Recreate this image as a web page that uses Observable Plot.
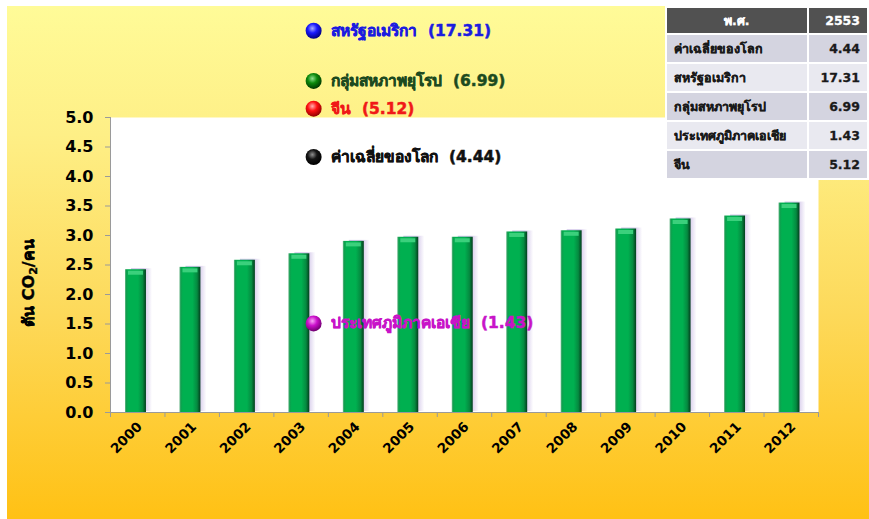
<!DOCTYPE html>
<html><head><meta charset="utf-8">
<script src="https://cdn.jsdelivr.net/npm/d3@7"></script>
<script src="https://cdn.jsdelivr.net/npm/@observablehq/plot@0.6"></script>
<style>
body{margin:0;background:#fff;}
#wrap{position:relative;width:869px;height:519px;overflow:hidden;font-family:"DejaVu Sans","Noto Sans",sans-serif;}
#bg{position:absolute;left:7px;top:6px;right:0;bottom:0;background:linear-gradient(#fffb98 0%,#feef86 25%,#fdd95a 60%,#ffc114 100%);}
#chart{position:absolute;left:0;top:0;}
#ytitle{position:absolute;left:28px;top:283px;transform:translate(-50%,-50%) rotate(-90deg);font-weight:bold;font-size:16px;white-space:nowrap;color:#000;-webkit-text-stroke:0.4px #000;}
#ytitle sub{font-size:11px;vertical-align:-3px;}
#tbl{position:absolute;left:665px;top:6px;border-collapse:separate;border-spacing:2px;background:#fff;font-weight:bold;font-size:12.5px;color:#1a1a1a;-webkit-text-stroke:0.3px #1a1a1a;}
#tbl th{background:#515151;color:#fff;height:25px;padding:0;-webkit-text-stroke:0.3px #fff;}
#tbl td{height:27px;padding:0 7px;}
#tbl td:first-child{width:134px;}
#tbl td:last-child{width:38px;text-align:right;}
#tbl th:first-child{width:148px;text-align:center;}
#tbl th:last-child{width:52px;text-align:right;padding-right:7px;}
#tbl tr.odd td{background:#d4d4e0;}
#tbl tr.even td{background:#e9e9f0;}
</style>
</head><body>
<svg width="0" height="0" style="position:absolute">
<defs>
<linearGradient id="barGrad" x1="0" x2="1" y1="0" y2="0">
 <stop offset="0" stop-color="#6bb88a"/>
 <stop offset="0.07" stop-color="#0f9f4e"/>
 <stop offset="0.16" stop-color="#00b050"/>
 <stop offset="0.62" stop-color="#00b050"/>
 <stop offset="0.84" stop-color="#058a40"/>
 <stop offset="1" stop-color="#033d1d"/>
</linearGradient>
<linearGradient id="shadowGrad" x1="0" x2="1" y1="0" y2="0">
 <stop offset="0.6" stop-color="#a890d4" stop-opacity="0.55"/>
 <stop offset="1" stop-color="#a890d4" stop-opacity="0"/>
</linearGradient>
<radialGradient id="ballBlue" cx="0.42" cy="0.35" r="0.65">
 <stop offset="0" stop-color="#a8acff"/><stop offset="0.45" stop-color="#1a1aff"/><stop offset="1" stop-color="#000080"/>
</radialGradient>
<radialGradient id="ballGreen" cx="0.42" cy="0.35" r="0.65">
 <stop offset="0" stop-color="#8fe08f"/><stop offset="0.45" stop-color="#0c8a0c"/><stop offset="1" stop-color="#003800"/>
</radialGradient>
<radialGradient id="ballRed" cx="0.42" cy="0.35" r="0.65">
 <stop offset="0" stop-color="#ffb0b0"/><stop offset="0.45" stop-color="#ff1010"/><stop offset="1" stop-color="#900000"/>
</radialGradient>
<radialGradient id="ballBlack" cx="0.42" cy="0.35" r="0.65">
 <stop offset="0" stop-color="#909090"/><stop offset="0.45" stop-color="#151515"/><stop offset="1" stop-color="#000"/>
</radialGradient>
<radialGradient id="ballMagenta" cx="0.42" cy="0.35" r="0.65">
 <stop offset="0" stop-color="#f7a8f7"/><stop offset="0.45" stop-color="#cc10cc"/><stop offset="1" stop-color="#700070"/>
</radialGradient>
</defs>
</svg>
<div id="wrap">
 <div id="bg"></div>
 <div id="chart"></div>
 <div id="ytitle">ตัน CO<sub>2</sub>/คน</div>
 <table id="tbl"></table>
</div>
<script>
// ---- data ----
const years = ["2000","2001","2002","2003","2004","2005","2006","2007","2008","2009","2010","2011","2012"];
const emissions = [2.42,2.46,2.58,2.69,2.90,2.97,2.97,3.06,3.08,3.11,3.28,3.33,3.55];
const yTicks = [0,0.5,1.0,1.5,2.0,2.5,3.0,3.5,4.0,4.5,5.0];
const regions = ["สหรัฐอเมริกา","กลุ่มสหภาพยุโรป","จีน","ค่าเฉลี่ยของโลก","ประเทศภูมิภาคเอเชีย"];
const regionValues = ["17.31","6.99","5.12","4.44","1.43"];
const regionLabelAt = [6.47,5.62,5.15,4.33,1.51]; // where each marker sits, in axis units
const tableHeader = ["พ.ศ.","2553"];
const tableRows = ["ค่าเฉลี่ยของโลก","สหรัฐอเมริกา","กลุ่มสหภาพยุโรป","ประเทศภูมิภาคเอเชีย","จีน"];
const tableValues = ["4.44","17.31","6.99","1.43","5.12"];

// ---- styles ----
const regionStyle = [
  {ball:"ballBlue", text:"#1c1ce0"},
  {ball:"ballGreen", text:"#1d4a1f"},
  {ball:"ballRed", text:"#f01818"},
  {ball:"ballBlack", text:"#111111"},
  {ball:"ballMagenta", text:"#c814c8"}
];

const W = 869, H = 519, mL = 110, mR = 51, mT = 117, mB = 107;
const bw = (W - mL - mR) / years.length;
const data = years.map((year, i) => ({year, value: emissions[i]}));

const barOpts = {x: "year", y: "value", insetLeft: 15, insetRight: 18.5};

const annotationMarks = regions.flatMap((name, i) => [
  Plot.dot([name], {x: () => "2003", y: () => regionLabelAt[i], r: 8, dx: 12.5,
    fill: `url(#${regionStyle[i].ball})`, stroke: "none"}),
  Plot.text([name], {x: () => "2003", y: () => regionLabelAt[i], dx: 30, textAnchor: "start",
    text: d => `${d}\u00a0 (${regionValues[i]})`, fill: regionStyle[i].text,
    stroke: regionStyle[i].text, strokeWidth: 0.5,
    fontSize: 15.5, fontWeight: "bold"})
]);

const chart = Plot.plot({
  width: W, height: H,
  marginLeft: mL, marginRight: mR, marginTop: mT, marginBottom: mB,
  style: {background: "transparent", fontFamily: "'DejaVu Sans','Noto Sans',sans-serif", color: "#000"},
  x: {domain: years, padding: 0, round: false, label: null},
  y: {domain: [0, 5], label: null},
  marks: [
    Plot.frame({fill: "white", stroke: "none"}),
    Plot.barY(data, {...barOpts, fill: "url(#shadowGrad)", dx: 6, dy: -1}),
    Plot.barY(data, {...barOpts, fill: "url(#barGrad)"}),
    Plot.tickY(data, {x: "year", y: "value", dy: 3, stroke: "#3bd07c", strokeWidth: 4, insetLeft: 18, insetRight: 21.5}),
    Plot.ruleY([0], {stroke: "#9a9a9a"}),
    Plot.ruleX([years[0]], {x: d => d, dx: -bw / 2, stroke: "#9a9a9a"}),
    Plot.ruleX(years, {x: d => d, y1: 0, y2: 0, insetBottom: -5, dx: -bw / 2, stroke: "#9a9a9a"}),
    Plot.ruleX([years[years.length - 1]], {x: d => d, y1: 0, y2: 0, insetBottom: -5, dx: bw / 2, stroke: "#9a9a9a"}),
    Plot.axisY(yTicks, {tickFormat: d => d.toFixed(1), tickSize: 5, tickPadding: 12, stroke: "#9a9a9a", fill: "#000", fontSize: 16, fontWeight: "bold"}),
    Plot.axisX({tickSize: 0, tickPadding: 12, tickRotate: -45, textAnchor: "end", fill: "#000", fontSize: 13.5, fontWeight: "bold", dx: 2}),
    ...annotationMarks
  ]
});
document.getElementById("chart").appendChild(chart);

// table
const tbl = d3.select("#tbl");
const hr = tbl.append("tr");
tableHeader.forEach(h => hr.append("th").text(h));
tableRows.forEach((r, i) => {
  const tr = tbl.append("tr").attr("class", i % 2 === 0 ? "odd" : "even");
  tr.append("td").text(r);
  tr.append("td").text(tableValues[i]);
});
</script>
</body></html>
